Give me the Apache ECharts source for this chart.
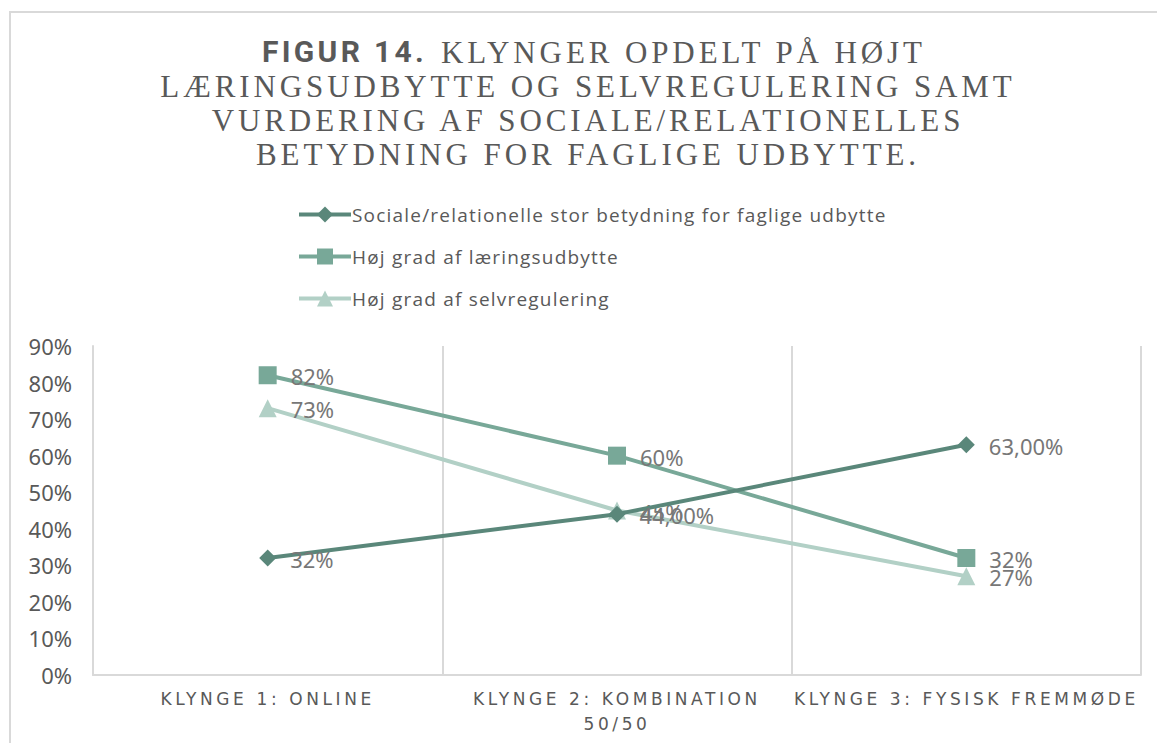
<!DOCTYPE html>
<html>
<head>
<meta charset="utf-8">
<script src="https://cdn.jsdelivr.net/npm/echarts@6/dist/echarts.min.js"></script>
<style>
    html, body { margin: 0; padding: 0; background: #fff; overflow: hidden; }
    #frame {
        position: absolute; left: 9px; top: 11px; width: 1200px; height: 800px;
        border: 2px solid #d9d9d9; box-sizing: border-box;
    }
    #grafico { position: absolute; left: 0; top: 0; width: 1157px; height: 743px; }
    /* spatiering som i figuren (svg-tekst) */
    #grafico text[style*="Liberation Serif"] { letter-spacing: 3.9px; }
    #grafico text[style*="Roboto"] { letter-spacing: 3.3px; }
    #grafico text[style*="DejaVu Sans"] { letter-spacing: 3.6px; }
    #grafico text[style*="Open Sans"] { letter-spacing: 1.2px; }
</style>
</head>
<body>
<div id="frame"></div>
<div id="grafico"></div>
<script>
// Klynger (kategorier)
const klynger = ['KLYNGE 1: ONLINE', 'KLYNGE 2: KOMBINATION\n50/50', 'KLYNGE 3: FYSISK FREMMØDE'];

// Serier (procent)
const sociale = [32, 44, 63];
const laering = [82, 60, 32];
const selvregulering = [73, 45, 27];

// Datalabels som de står i figuren
const socialeLabels = ['32%', '44,00%', '63,00%'];
const laeringLabels = ['82%', '60%', '32%'];
const selvLabels = ['73%', '45%', '27%'];

const serieNavne = [
    'Sociale/relationelle stor betydning for faglige udbytte',
    'Høj grad af læringsudbytte',
    'Høj grad af selvregulering'
];

// Titel
const figurNr = 'FIGUR 14.';
const tittelLinjer = [
    'KLYNGER OPDELT PÅ HØJT',
    'LÆRINGSUDBYTTE OG SELVREGULERING SAMT',
    'VURDERING AF SOCIALE/RELATIONELLES',
    'BETYDNING FOR FAGLIGE UDBYTTE.'
];

const container = document.getElementById('grafico');
const chart = echarts.init(container, null, { renderer: 'svg' });

const tittelStil = {
    fontFamily: 'Liberation Serif',
    fontSize: 31,
    fontWeight: 'normal',
    color: '#595959'
};

function lagLabel(tekster) {
    return {
        show: true,
        position: 'right',
        distance: 14,
        offset: [0, 1],
        fontSize: 22,
        fontFamily: 'Noto Sans',
        color: '#777777',
        formatter: function (p) { return tekster[p.dataIndex]; }
    };
}

const titler = [
    {
        text: figurNr,
        left: 262,
        top: 36,
        padding: 0,
        textStyle: { fontFamily: 'Roboto', fontWeight: 'bold', fontSize: 30, color: '#595959' }
    },
    { text: tittelLinjer[0], left: 441, top: 37, padding: 0, textStyle: tittelStil }
];
[71, 105, 139].forEach(function (top, i) {
    titler.push({
        text: tittelLinjer[i + 1],
        left: 588,
        top: top,
        padding: 0,
        textAlign: 'center',
        textStyle: tittelStil
    });
});

const option = {
    backgroundColor: 'transparent',
    animation: false,
    title: titler,
    legend: {
        orient: 'vertical',
        left: 292,
        top: 200,
        itemWidth: 52,
        itemHeight: 20,
        itemGap: 23,
        data: serieNavne,
        lineStyle: { width: 4 },
        textStyle: {
            fontFamily: 'Open Sans',
            fontSize: 19,
            color: '#595959',
            padding: [0, 0, 0, -4]
        }
    },
    grid: {
        left: 93,
        right: 16,
        top: 346,
        bottom: 68,
        containLabel: false
    },
    xAxis: {
        type: 'category',
        data: klynger,
        boundaryGap: true,
        axisLine: { show: true, lineStyle: { color: '#d9d9d9', width: 2 } },
        axisTick: { show: false },
        splitLine: { show: true, lineStyle: { color: '#d9d9d9', width: 2 } },
        axisLabel: {
            interval: 0,
            margin: 11,
            fontFamily: 'DejaVu Sans',
            fontSize: 17,
            lineHeight: 25,
            color: '#595959'
        }
    },
    yAxis: {
        type: 'value',
        min: 0,
        max: 90,
        interval: 10,
        axisLine: { show: true, lineStyle: { color: '#d9d9d9', width: 2 } },
        axisTick: { show: false },
        splitLine: { show: false },
        axisLabel: {
            formatter: '{value}%',
            margin: 21,
            fontFamily: 'Noto Sans',
            fontSize: 22,
            color: '#595959'
        }
    },
    series: [
        {
            name: serieNavne[0],
            type: 'line',
            data: sociale,
            symbol: 'diamond',
            symbolSize: 17,
            lineStyle: { color: '#5a877a', width: 4 },
            itemStyle: { color: '#5a877a' },
            label: lagLabel(socialeLabels),
            z: 3
        },
        {
            name: serieNavne[1],
            type: 'line',
            data: laering,
            symbol: 'rect',
            symbolSize: 18,
            lineStyle: { color: '#78a898', width: 4 },
            itemStyle: { color: '#78a898' },
            label: lagLabel(laeringLabels),
            z: 2
        },
        {
            name: serieNavne[2],
            type: 'line',
            data: selvregulering,
            symbol: 'triangle',
            symbolSize: 18,
            lineStyle: { color: '#b2d0c6', width: 4 },
            itemStyle: { color: '#b2d0c6' },
            label: lagLabel(selvLabels),
            z: 1
        }
    ]
};

chart.setOption(option);

window.addEventListener('resize', function () {
    chart.resize();
});
</script>
</body>
</html>
